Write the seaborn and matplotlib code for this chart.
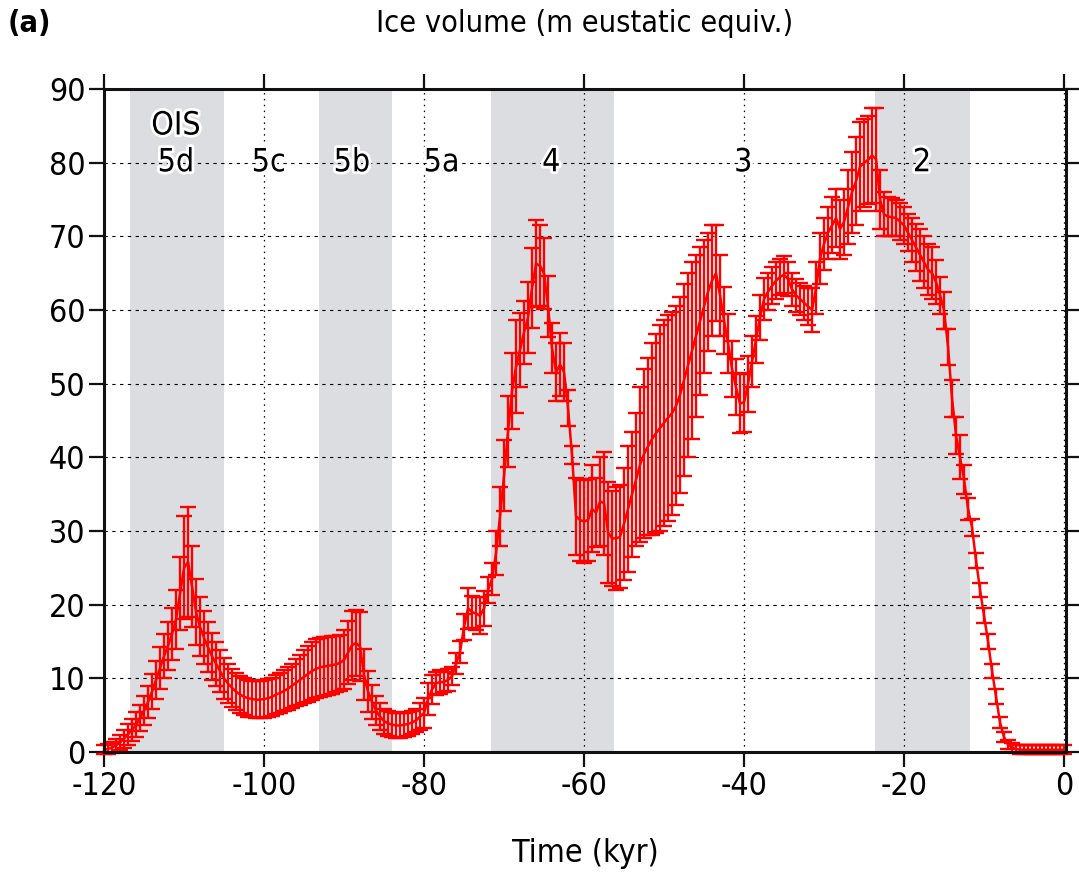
import numpy as np
import pandas as pd
import matplotlib
matplotlib.use("Agg")
import matplotlib.pyplot as plt
import matplotlib.patheffects as pe
import seaborn as sns

# time axis, 0.5 kyr steps
time_kyr = np.arange(-120, 0.25, 0.5)

# ice volume (m eustatic equiv.)
ice_volume = [
    0.3, 0.4, 0.6, 0.9, 1.3, 1.8, 2.4, 3.0, 3.7, 4.6,
    5.6, 6.8, 8.2, 9.8, 11.4, 13.0, 14.4, 16.0, 18.0, 21.5,
    25.0, 25.8, 22.5, 19.0, 17.0, 15.5, 14.2, 13.0, 12.0, 11.0,
    10.0, 9.3, 8.7, 8.2, 7.8, 7.5, 7.3, 7.2, 7.1, 7.1,
    7.2, 7.3, 7.5, 7.8, 8.0, 8.3, 8.6, 9.0, 9.4, 9.8,
    10.2, 10.6, 11.0, 11.3, 11.5, 11.6, 11.7, 11.8, 11.9, 12.1,
    12.5, 13.5, 14.5, 14.8, 14.3, 10.5, 8.2, 6.8, 5.6, 4.8,
    4.2, 3.9, 3.7, 3.6, 3.6, 3.7, 3.8, 4.0, 4.3, 4.8,
    5.3, 7.2, 8.5, 9.3, 9.5, 9.5, 9.8, 10.3, 12.0, 13.6,
    17.0, 19.5, 19.0, 18.8, 18.5, 19.5, 22.0, 23.5, 27.0, 32.0,
    37.5, 43.5, 49.0, 52.3, 54.6, 57.0, 59.0, 63.0, 66.3, 66.0,
    65.0, 60.5, 54.8, 51.6, 52.6, 51.6, 46.7, 40.3, 32.0, 31.5,
    31.3, 31.5, 33.0, 32.5, 34.0, 33.8, 29.8, 29.0, 29.0, 29.2,
    31.0, 33.0, 35.0, 37.0, 39.0, 40.5, 41.5, 42.5, 43.3, 44.0,
    44.7, 45.4, 46.0, 47.0, 48.5, 50.5, 52.5, 54.5, 56.5, 58.5,
    60.5, 62.5, 64.0, 65.0, 62.0, 58.6, 55.5, 52.0, 49.5, 47.3,
    47.5, 50.0, 53.0, 56.0, 59.0, 61.5, 62.5, 63.3, 64.0, 64.5,
    64.8, 64.2, 62.8, 62.0, 61.5, 61.0, 60.5, 60.0, 63.0, 67.0,
    69.0, 70.5, 71.5, 72.5, 71.0, 72.0, 74.0, 76.0, 77.5, 79.5,
    80.0, 80.4, 81.0, 80.5, 75.0, 73.0, 72.7, 72.6, 72.5, 72.0,
    71.5, 70.5, 69.5, 68.5, 67.5, 66.5, 65.5, 65.0, 63.8, 62.0,
    60.0, 55.0, 48.0, 43.0, 40.0, 37.0, 33.0, 30.5, 26.0, 22.0,
    18.5, 15.0, 11.0, 7.5, 4.0, 2.0, 1.0, 0.6, 0.4, 0.3,
    0.3, 0.3, 0.3, 0.3, 0.3, 0.3, 0.3, 0.3, 0.3, 0.3,
    0.3,
]

# half-width of the error bars
ice_err = [
    0.6, 0.7, 0.8, 0.9, 1.0, 1.2, 1.4, 1.5, 1.7, 1.8,
    2.0, 2.2, 2.4, 2.6, 2.8, 3.0, 3.2, 3.5, 4.0, 5.0,
    7.0, 7.5, 5.5, 4.5, 4.0, 3.6, 3.4, 3.2, 3.0, 2.9,
    2.8, 2.7, 2.6, 2.5, 2.5, 2.5, 2.5, 2.5, 2.5, 2.5,
    2.6, 2.6, 2.6, 2.7, 2.7, 2.8, 2.9, 3.0, 3.2, 3.4,
    3.6, 3.8, 4.0, 4.0, 4.0, 4.0, 3.9, 3.9, 3.8, 3.8,
    4.0, 4.3, 4.7, 4.5, 4.7, 3.5, 2.8, 2.3, 2.0, 1.8,
    1.7, 1.7, 1.7, 1.7, 1.7, 1.6, 1.6, 1.6, 1.6, 1.8,
    2.0, 2.2, 2.0, 1.6, 1.6, 1.4, 1.5, 1.2, 1.4, 1.5,
    1.8, 2.8, 2.2, 2.2, 2.5, 2.4, 1.8, 2.2, 3.0, 4.0,
    4.8, 4.8, 5.2, 6.3, 5.0, 4.3, 4.8, 5.4, 5.9, 5.5,
    4.8, 4.1, 3.4, 3.9, 4.3, 3.9, 2.5, 1.2, 5.2, 5.5,
    5.6, 5.6, 5.9, 4.7, 6.0, 7.0, 6.8, 6.5, 7.0, 7.0,
    7.6, 8.5, 8.5, 9.0, 10.5, 11.5, 12.0, 13.0, 13.5, 14.0,
    14.0, 14.0, 13.8, 13.5, 13.3, 13.0, 12.5, 12.0, 11.0, 10.0,
    9.0, 8.0, 7.5, 6.5, 5.5, 4.5, 4.0, 3.8, 3.8, 4.0,
    4.0, 3.8, 3.5, 3.2, 3.0, 2.8, 2.5, 2.5, 2.5, 2.5,
    2.5, 2.3, 2.2, 2.2, 2.2, 2.3, 2.5, 3.0, 3.5, 3.5,
    3.5, 3.5, 3.8, 4.0, 4.0, 4.5, 5.0, 5.5, 6.0, 6.0,
    6.0, 6.0, 6.5, 7.0, 4.0, 3.0, 2.7, 2.6, 2.5, 2.5,
    2.5, 2.5, 3.0, 3.2, 3.5, 3.5, 3.5, 3.5, 3.0, 2.5,
    2.5, 2.5, 2.5, 2.5, 3.0, 2.0, 1.5, 1.2, 1.0, 1.0,
    1.0, 1.0, 1.0, 1.0, 0.8, 0.7, 0.6, 0.6, 0.6, 0.6,
    0.6, 0.6, 0.6, 0.6, 0.6, 0.6, 0.6, 0.6, 0.6, 0.6,
    0.6,
]

# shaded OIS stages (start, end) in kyr
stage_bands = [(-116.75, -105.0), (-93.1, -84.0), (-71.6, -56.3), (-23.6, -11.7)]
stage_labels = ["5d", "5c", "5b", "5a", "4", "3", "2"]
stage_label_x = [-111.0, -99.4, -89.0, -77.8, -64.1, -40.1, -17.75]

df = pd.DataFrame({"time": time_kyr, "ice": ice_volume, "err": ice_err})

sns.set_style("ticks")
plt.rcParams["font.family"] = ["DejaVu Sans"]
plt.rcParams["font.stretch"] = "condensed"
plt.rcParams["axes.unicode_minus"] = False
plt.rcParams["text.color"] = "black"

fig = plt.figure(figsize=(10.79, 8.74), dpi=100)
ax = fig.add_axes([0.0964, 0.1396, 0.8916, 0.7584])

for x0, x1 in stage_bands:
    ax.axvspan(x0, x1, color="#dcdde0", lw=0, zorder=0)

ax.errorbar(df["time"], df["ice"], yerr=df["err"], fmt="none", ecolor="#ff0000",
            elinewidth=1.7, capsize=5.5, capthick=1.7, clip_on=False, zorder=3)
sns.lineplot(data=df, x="time", y="ice", color="#ff0000", lw=1.8, ax=ax, zorder=4)

ax.set_xlim(-120, 0.25)
ax.set_ylim(0, 90)
ax.set_xticks(range(-120, 1, 20))
ax.set_yticks(range(0, 91, 10))

ax.xaxis.grid(True, ls=(0, (1.2, 3.5)), color="black", lw=0.9)
ax.yaxis.grid(True, ls=(0, (3, 4)), color="black", lw=0.8)
for gl in ax.get_xgridlines() + ax.get_ygridlines():
    gl.set_zorder(1)

for s in ax.spines.values():
    s.set_linewidth(2.2)
    s.set_color("#111111")
    s.set_zorder(5)
ax.tick_params(direction="out", length=10.5, width=1.6, labelsize=23, pad=3,
               top=True, right=True, colors="#111111", labelcolor="black")

stroke = [pe.withStroke(linewidth=4, foreground="white")]
ax.text(-111.0, 85, "OIS", ha="center", va="center", fontsize=23, path_effects=stroke, zorder=6)
for lab, xl in zip(stage_labels, stage_label_x):
    ax.text(xl, 80, lab, ha="center", va="center", fontsize=23, path_effects=stroke, zorder=6)

ax.set_xlabel("Time (kyr)", fontsize=23, labelpad=26, color="black")
ax.set_ylabel("")
fig.text(585 / 1079, 1 - 24 / 874, "Ice volume (m eustatic equiv.)", ha="center", va="center", fontsize=22)
fig.text(8 / 1079, 1 - 24 / 874, "(a)", ha="left", va="center", fontsize=22, fontweight="bold")

fig.savefig("out.png", dpi=100)
